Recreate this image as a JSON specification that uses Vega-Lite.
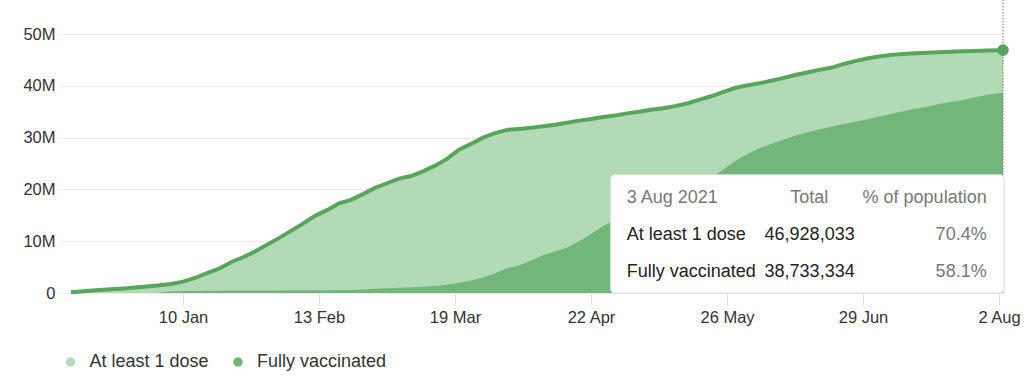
{
  "$schema": "https://vega.github.io/schema/vega-lite/v6.json",
  "width": 944,
  "height": 293,
  "autosize": {"type": "none"},
  "padding": {"left": 59, "top": 0, "right": 21, "bottom": 86},
  "config": {
    "view": {"stroke": null},
    "font": "Liberation Sans",
    "legend": {
      "orient": "none",
      "legendX": 2.5,
      "legendY": 353,
      "direction": "horizontal",
      "symbolType": "circle",
      "symbolSize": 90,
      "symbolStrokeWidth": 0,
      "labelFontSize": 18,
      "labelColor": "#333333",
      "labelOffset": 10,
      "columnPadding": 19.5,
      "padding": 0,
      "title": null
    }
  },
  "data": {
    "values": [
      {"date": "2020-12-13", "first": 0.15, "full": 0},
      {"date": "2020-12-20", "first": 0.58, "full": 0},
      {"date": "2020-12-27", "first": 0.9, "full": 0},
      {"date": "2021-01-03", "first": 1.38, "full": 0.02},
      {"date": "2021-01-07", "first": 1.75, "full": 0.3},
      {"date": "2021-01-10", "first": 2.2, "full": 0.39},
      {"date": "2021-01-13", "first": 2.9, "full": 0.41},
      {"date": "2021-01-16", "first": 3.85, "full": 0.43},
      {"date": "2021-01-19", "first": 4.7, "full": 0.45},
      {"date": "2021-01-22", "first": 5.95, "full": 0.46},
      {"date": "2021-01-25", "first": 6.9, "full": 0.47},
      {"date": "2021-01-28", "first": 8.0, "full": 0.48},
      {"date": "2021-01-31", "first": 9.3, "full": 0.49},
      {"date": "2021-02-03", "first": 10.6, "full": 0.5},
      {"date": "2021-02-06", "first": 12.0, "full": 0.51},
      {"date": "2021-02-09", "first": 13.4, "full": 0.52},
      {"date": "2021-02-12", "first": 14.9, "full": 0.53},
      {"date": "2021-02-15", "first": 16.0, "full": 0.54},
      {"date": "2021-02-18", "first": 17.3, "full": 0.56},
      {"date": "2021-02-21", "first": 18.0, "full": 0.6},
      {"date": "2021-02-24", "first": 19.1, "full": 0.7},
      {"date": "2021-02-27", "first": 20.3, "full": 0.8},
      {"date": "2021-03-02", "first": 21.2, "full": 0.9},
      {"date": "2021-03-05", "first": 22.1, "full": 1.0},
      {"date": "2021-03-08", "first": 22.6, "full": 1.1},
      {"date": "2021-03-11", "first": 23.5, "full": 1.2},
      {"date": "2021-03-14", "first": 24.6, "full": 1.35},
      {"date": "2021-03-17", "first": 25.9, "full": 1.6},
      {"date": "2021-03-20", "first": 27.7, "full": 2.0},
      {"date": "2021-03-23", "first": 28.8, "full": 2.4},
      {"date": "2021-03-26", "first": 30.0, "full": 3.0},
      {"date": "2021-03-29", "first": 30.9, "full": 3.8},
      {"date": "2021-04-01", "first": 31.5, "full": 4.8},
      {"date": "2021-04-04", "first": 31.7, "full": 5.3},
      {"date": "2021-04-07", "first": 31.9, "full": 6.3},
      {"date": "2021-04-10", "first": 32.2, "full": 7.3},
      {"date": "2021-04-13", "first": 32.5, "full": 8.0},
      {"date": "2021-04-16", "first": 32.9, "full": 8.8},
      {"date": "2021-04-19", "first": 33.3, "full": 10.0},
      {"date": "2021-04-22", "first": 33.6, "full": 11.4},
      {"date": "2021-04-25", "first": 34.0, "full": 12.9},
      {"date": "2021-04-28", "first": 34.3, "full": 14.1},
      {"date": "2021-05-01", "first": 34.7, "full": 15.0},
      {"date": "2021-05-04", "first": 35.0, "full": 15.9},
      {"date": "2021-05-07", "first": 35.4, "full": 16.8},
      {"date": "2021-05-10", "first": 35.7, "full": 17.8},
      {"date": "2021-05-13", "first": 36.1, "full": 18.9},
      {"date": "2021-05-16", "first": 36.6, "full": 20.0},
      {"date": "2021-05-19", "first": 37.3, "full": 21.1},
      {"date": "2021-05-22", "first": 38.0, "full": 22.3},
      {"date": "2021-05-25", "first": 38.8, "full": 23.8},
      {"date": "2021-05-28", "first": 39.6, "full": 25.5},
      {"date": "2021-05-31", "first": 40.1, "full": 26.8},
      {"date": "2021-06-03", "first": 40.5, "full": 27.9},
      {"date": "2021-06-06", "first": 41.0, "full": 28.8},
      {"date": "2021-06-09", "first": 41.5, "full": 29.6},
      {"date": "2021-06-12", "first": 42.1, "full": 30.4},
      {"date": "2021-06-15", "first": 42.6, "full": 31.0},
      {"date": "2021-06-18", "first": 43.1, "full": 31.6},
      {"date": "2021-06-21", "first": 43.5, "full": 32.1},
      {"date": "2021-06-24", "first": 44.2, "full": 32.6},
      {"date": "2021-06-27", "first": 44.8, "full": 33.1},
      {"date": "2021-06-30", "first": 45.3, "full": 33.5},
      {"date": "2021-07-03", "first": 45.7, "full": 34.1},
      {"date": "2021-07-06", "first": 46.0, "full": 34.6},
      {"date": "2021-07-09", "first": 46.15, "full": 35.1},
      {"date": "2021-07-12", "first": 46.3, "full": 35.6},
      {"date": "2021-07-15", "first": 46.4, "full": 36.0},
      {"date": "2021-07-18", "first": 46.5, "full": 36.5},
      {"date": "2021-07-21", "first": 46.6, "full": 36.9},
      {"date": "2021-07-24", "first": 46.7, "full": 37.3},
      {"date": "2021-07-27", "first": 46.77, "full": 37.8},
      {"date": "2021-07-30", "first": 46.85, "full": 38.3},
      {"date": "2021-08-02", "first": 46.9, "full": 38.6},
      {"date": "2021-08-03", "first": 46.928033, "full": 38.733334}
    ]
  },
  "layer": [
    {
      "mark": {"type": "area", "opacity": 1},
      "encoding": {
        "x": {
          "field": "date",
          "type": "temporal",
          "scale": {"domain": [{"year": 2020, "month": 12, "date": 10}, {"year": 2021, "month": 8, "date": 3}]},
          "axis": {
            "title": null,
            "values": [
              {"year": 2021, "month": 1, "date": 10},
              {"year": 2021, "month": 2, "date": 13},
              {"year": 2021, "month": 3, "date": 19},
              {"year": 2021, "month": 4, "date": 22},
              {"year": 2021, "month": 5, "date": 26},
              {"year": 2021, "month": 6, "date": 29},
              {"year": 2021, "month": 8, "date": 2}
            ],
            "format": "%-d %b",
            "domain": false,
            "grid": false,
            "ticks": true,
            "tickColor": "#dddddd",
            "tickSize": 12,
            "labelPadding": 4,
            "labelFontSize": 16.5,
            "labelColor": "#333333"
          }
        },
        "y": {
          "field": "first",
          "type": "quantitative",
          "scale": {"domain": [0, 56.6], "nice": false},
          "axis": {
            "title": null,
            "values": [0, 10, 20, 30, 40, 50],
            "labelExpr": "datum.value == 0 ? '0' : datum.value + 'M'",
            "domain": false,
            "ticks": false,
            "grid": true,
            "gridColor": "#ebebeb",
            "labelPadding": 4,
            "labelFontSize": 16.5,
            "labelColor": "#333333"
          }
        },
        "color": {
          "datum": "At least 1 dose",
          "type": "nominal",
          "scale": {"domain": ["At least 1 dose", "Fully vaccinated"], "range": ["#b2dab6", "#72b779"]}
        }
      }
    },
    {
      "mark": {"type": "area", "opacity": 1},
      "encoding": {
        "x": {"field": "date", "type": "temporal"},
        "y": {"field": "full", "type": "quantitative", "title": null},
        "color": {"datum": "Fully vaccinated", "type": "nominal"}
      }
    },
    {
      "mark": {"type": "line", "color": "#58a65c", "strokeWidth": 4},
      "encoding": {
        "x": {"field": "date", "type": "temporal"},
        "y": {"field": "first", "type": "quantitative", "title": null}
      }
    },
    {
      "transform": [{"filter": {"field": "first", "equal": 46.928033}}],
      "mark": {"type": "point", "filled": true, "opacity": 1, "color": "#58a65c", "size": 135},
      "encoding": {
        "x": {"field": "date", "type": "temporal"},
        "y": {"field": "first", "type": "quantitative", "title": null}
      }
    },
    {
      "data": {"values": [{}]},
      "mark": {"type": "rule", "color": "#777777", "strokeDash": [1.5, 1.5], "strokeWidth": 1},
      "encoding": {
        "x": {"datum": {"year": 2021, "month": 8, "date": 3}, "type": "temporal"}
      }
    },
    {
      "data": {"values": [{}]},
      "mark": {"type": "rect", "fill": "#000000", "opacity": 0.06, "cornerRadius": 5},
      "encoding": {
        "x": {"datum": {"year": 2021, "month": 4, "date": 26, "hours": 22}, "type": "temporal"},
        "x2": {"datum": {"year": 2021, "month": 8, "date": 3, "hours": 12}},
        "y": {"datum": 22.84, "type": "quantitative"},
        "y2": {"datum": -0.15}
      }
    },
    {
      "data": {"values": [{}]},
      "mark": {"type": "rect", "fill": "#ffffff", "stroke": "#e2e2e2", "strokeWidth": 1, "cornerRadius": 4},
      "encoding": {
        "x": {"datum": {"year": 2021, "month": 4, "date": 26, "hours": 22}, "type": "temporal"},
        "x2": {"datum": {"year": 2021, "month": 8, "date": 3, "hours": 6}},
        "y": {"datum": 22.84, "type": "quantitative"},
        "y2": {"datum": 0}
      }
    },
    {
      "data": {"values": [{}]},
      "mark": {"type": "text", "text": "3 Aug 2021", "align": "left", "baseline": "middle", "fontSize": 18, "color": "#777777"},
      "encoding": {
        "x": {"datum": {"year": 2021, "month": 4, "date": 30, "hours": 22}, "type": "temporal"},
        "y": {"datum": 18.4, "type": "quantitative"}
      }
    },
    {
      "data": {"values": [{}]},
      "mark": {"type": "text", "text": "Total", "align": "center", "baseline": "middle", "fontSize": 18, "color": "#777777"},
      "encoding": {
        "x": {"datum": {"year": 2021, "month": 6, "date": 15, "hours": 13}, "type": "temporal"},
        "y": {"datum": 18.4, "type": "quantitative"}
      }
    },
    {
      "data": {"values": [{}]},
      "mark": {"type": "text", "text": "% of population", "align": "right", "baseline": "middle", "fontSize": 18, "color": "#777777"},
      "encoding": {
        "x": {"datum": {"year": 2021, "month": 7, "date": 29, "hours": 22}, "type": "temporal"},
        "y": {"datum": 18.4, "type": "quantitative"}
      }
    },
    {
      "data": {"values": [{}]},
      "mark": {"type": "text", "text": "At least 1 dose", "align": "left", "baseline": "middle", "fontSize": 18, "color": "#222222"},
      "encoding": {
        "x": {"datum": {"year": 2021, "month": 4, "date": 30, "hours": 22}, "type": "temporal"},
        "y": {"datum": 11.25, "type": "quantitative"}
      }
    },
    {
      "data": {"values": [{}]},
      "mark": {"type": "text", "text": "46,928,033", "align": "right", "baseline": "middle", "fontSize": 18, "color": "#222222"},
      "encoding": {
        "x": {"datum": {"year": 2021, "month": 6, "date": 26, "hours": 22}, "type": "temporal"},
        "y": {"datum": 11.25, "type": "quantitative"}
      }
    },
    {
      "data": {"values": [{}]},
      "mark": {"type": "text", "text": "70.4%", "align": "right", "baseline": "middle", "fontSize": 18, "color": "#777777"},
      "encoding": {
        "x": {"datum": {"year": 2021, "month": 7, "date": 29, "hours": 22}, "type": "temporal"},
        "y": {"datum": 11.25, "type": "quantitative"}
      }
    },
    {
      "data": {"values": [{}]},
      "mark": {"type": "text", "text": "Fully vaccinated", "align": "left", "baseline": "middle", "fontSize": 18, "color": "#222222"},
      "encoding": {
        "x": {"datum": {"year": 2021, "month": 4, "date": 30, "hours": 22}, "type": "temporal"},
        "y": {"datum": 4.1, "type": "quantitative"}
      }
    },
    {
      "data": {"values": [{}]},
      "mark": {"type": "text", "text": "38,733,334", "align": "right", "baseline": "middle", "fontSize": 18, "color": "#222222"},
      "encoding": {
        "x": {"datum": {"year": 2021, "month": 6, "date": 26, "hours": 22}, "type": "temporal"},
        "y": {"datum": 4.1, "type": "quantitative"}
      }
    },
    {
      "data": {"values": [{}]},
      "mark": {"type": "text", "text": "58.1%", "align": "right", "baseline": "middle", "fontSize": 18, "color": "#777777"},
      "encoding": {
        "x": {"datum": {"year": 2021, "month": 7, "date": 29, "hours": 22}, "type": "temporal"},
        "y": {"datum": 4.1, "type": "quantitative"}
      }
    }
  ]
}
